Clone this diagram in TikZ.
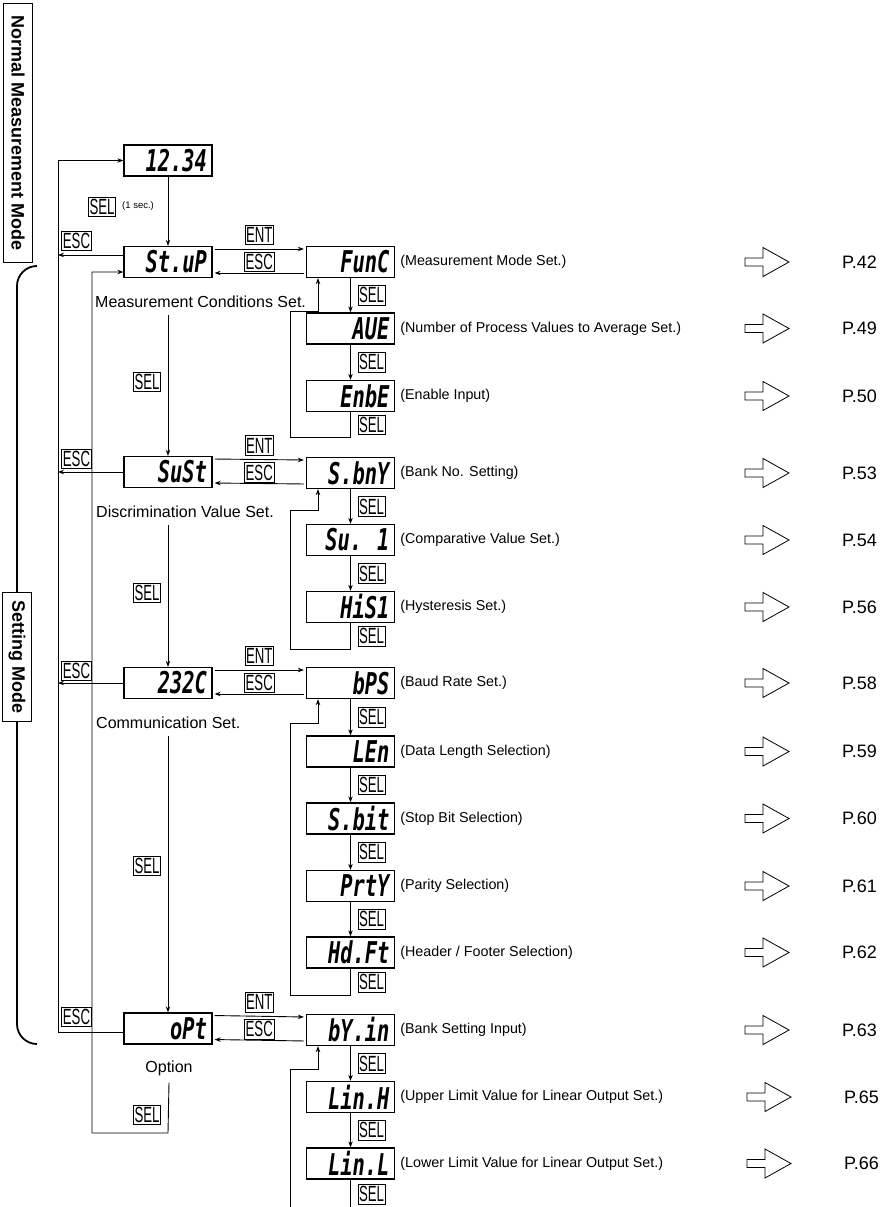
\documentclass[tikz,border=0pt]{standalone}
\usepackage{fontspec}
\setmainfont{Liberation Sans}
\newfontfamily\segfont[FakeStretch=0.68]{DejaVu Sans Mono}
\newfontfamily\keyfont[FakeStretch=0.6]{Liberation Sans}
\usetikzlibrary{positioning, arrows.meta}

\tikzset{
  disp/.style={draw, line width=1.3pt, minimum width=88pt, minimum height=31pt,
    inner sep=0pt, text width=78pt, align=right,
    font=\segfont\bfseries\itshape\fontsize{30}{30}\selectfont},
  key/.style={draw, line width=0.6pt, inner sep=1.2pt, minimum height=19.5pt,
    font=\keyfont\fontsize{22}{22}\selectfont},
  desc/.style={inner sep=0pt, font=\fontsize{14.3}{16}\selectfont},
  grouptitle/.style={inner sep=0pt, font=\fontsize{16}{18}\selectfont},
  pgref/.style={inner sep=0pt, anchor=west, font=\fontsize{18}{18}\selectfont},
  modebox/.style={draw, line width=1.8pt, rotate=-90, inner sep=2pt, fill=white,
    minimum height=29pt, font=\bfseries\fontsize{18}{18}\selectfont},
  conn/.style={line width=0.9pt},
  arr/.style={conn, -{Stealth[length=6pt, width=4.5pt]}},
  refarrow/.style={line width=0.8pt, line join=miter},
}

\begin{document}
\begin{tikzpicture}[x=1pt, y=-1pt]
  \useasboundingbox (0,0) rectangle (885,1207);

  % mode labels and brace
  \node[modebox, minimum width=259pt] (normal) at (18,133) {Normal Measurement Mode};
  \draw[line width=1.8pt, rounded corners=20pt] (37,266) -- (17,266) -- (17,1044) -- (37,1044);
  \node[modebox, minimum width=129pt] (setmode) at (17,657) {Setting Mode};

  % helper columns
  \coordinate (escx) at (58,0);
  \coordinate (loopx) at (92,0);
  \coordinate (lx) at (290,0);
  \coordinate (jx) at (318,0);
  \coordinate (refx) at (745,0);
  \coordinate (pgx) at (842,0);
  \coordinate (cut) at (0,1212);
  \coordinate (optloop) at (0,1133);

  % main column
  \node[disp] (meas)  at (168,160.5) {12.34};
  \node[disp] (setup) at (168,262)   {St.uP};
  \node[disp] (sust)  at (168,472)   {SuSt};
  \node[disp] (c232)  at (168,683)   {232C};
  \node[disp] (opt)   at (168,1028.5) {oPt};

  \node[grouptitle, anchor=west] (capsetup) at (95,302)  {Measurement Conditions Set.};
  \node[grouptitle, anchor=west] (capsust)  at (96,512)  {Discrimination Value Set.};
  \node[grouptitle, anchor=west] (capc232)  at (96,723)  {Communication Set.};
  \node[grouptitle] (capopt) at (169,1068) {Option};

  % sub columns
  \node[disp] (func) at (350.5,262)    {FunC};
  \node[disp] (aue)  at (350.5,328.5)  {AUE};
  \node[disp] (enbe) at (350.5,396)    {EnbE};
  \node[disp] (sbnk) at (350.5,473)    {S.bnY};
  \node[disp] (su1)  at (350.5,540)    {Su. 1};
  \node[disp] (his1) at (350.5,607)    {HiS1};
  \node[disp] (bps)  at (350.5,683)    {bPS};
  \node[disp] (len)  at (350.5,751.5)  {LEn};
  \node[disp] (sbit) at (350.5,818.5)  {S.bit};
  \node[disp] (prty) at (350.5,886)    {PrtY};
  \node[disp] (hdft) at (350.5,952.5)  {Hd.Ft};
  \node[disp] (bkin) at (350.5,1030)   {bY.in};
  \node[disp] (linh) at (350.5,1097)   {Lin.H};
  \node[disp] (linl) at (350.5,1163.5) {Lin.L};

  % descriptions
  \node[desc, right=5pt of func] (dfunc) {(Measurement Mode Set.)};
  \node[desc, right=5pt of aue]  (daue)  {(Number of Process Values to Average Set.)};
  \node[desc, right=5pt of enbe] (denbe) {(Enable Input)};
  \node[desc, right=5pt of sbnk] (dsbnk) {(Bank No. Setting)};
  \node[desc, right=5pt of su1]  (dsu1)  {(Comparative Value Set.)};
  \node[desc, right=5pt of his1] (dhis1) {(Hysteresis Set.)};
  \node[desc, right=5pt of bps]  (dbps)  {(Baud Rate Set.)};
  \node[desc, right=5pt of len]  (dlen)  {(Data Length Selection)};
  \node[desc, right=5pt of sbit] (dsbit) {(Stop Bit Selection)};
  \node[desc, right=5pt of prty] (dprty) {(Parity Selection)};
  \node[desc, right=5pt of hdft] (dhdft) {(Header / Footer Selection)};
  \node[desc, right=5pt of bkin] (dbkin) {(Bank Setting Input)};
  \node[desc, right=5pt of linh] (dlinh) {(Upper Limit Value for Linear Output Set.)};
  \node[desc, right=5pt of linl] (dlinl) {(Lower Limit Value for Linear Output Set.)};

  % page references
  \foreach \nm/\pg/\dx in {func/42/0, aue/49/0, enbe/50/0, sbnk/53/0, su1/54/0, his1/56/0,
      bps/58/0, len/59/0, sbit/60/0, prty/61/0, hdft/62/0, bkin/63/0, linh/65/2, linl/66/2} {
    \draw[refarrow] ([xshift=\dx pt]\nm -| refx) ++(0,-4) -- ++(18,0) -- ++(0,-10.5) -- ++(26,14.5)
      -- ++(-26,14.5) -- ++(0,-10.5) -- ++(-18,0) -- cycle;
    \node[pgref] (p\pg) at ([xshift=\dx pt]\nm -| pgx) {P.\pg};
  }

  % main SEL chain
  \draw[arr] (meas) -- (setup);
  \node[key] (selmeas) at (102,207) {SEL};
  \node[inner sep=0pt, anchor=west, font=\fontsize{9.5}{10}\selectfont] (onesec) at (122,206) {(1 sec.)};
  \draw[arr] ([yshift=-7pt]capsetup.south -| setup) -- (sust);
  \node[key] (selsetup) at (147,382) {SEL};
  \draw[arr] ([yshift=-7pt]capsust.south -| sust) -- (c232);
  \node[key] (selsust) at (147,593) {SEL};
  \draw[arr] ([yshift=-7pt]capc232.south -| c232) -- (opt);
  \node[key] (selc232) at (147,866) {SEL};

  % back to setup from option
  \draw[arr] ([yshift=-7pt]capopt.south) -- (opt |- optloop)
    -| ([yshift=-10pt]setup.west -| loopx) -- ([yshift=-10pt]setup.west);
  \node[key] (selopt) at (147,1115) {SEL};

  % ESC to normal mode
  \draw[arr] ([yshift=-3.5pt]opt.west) -| (escx |- meas) -- (meas);
  \draw[arr] ([yshift=7pt]setup.west) -- ([yshift=7pt]setup.west -| escx);
  \draw[arr] (sust.west) -- (sust.west -| escx);
  \draw[arr] (c232.west) -- (c232.west -| escx);
  \node[key] (escsetup) at (76.5,241)  {ESC};
  \node[key] (escsust)  at (76.5,459)  {ESC};
  \node[key] (escc232)  at (76.5,671)  {ESC};
  \node[key] (escopt)   at (76.5,1017) {ESC};

  % ENT / ESC between columns
  \foreach \m/\s in {setup/func, sust/sbnk, c232/bps, opt/bkin} {
    \draw[arr, shorten <=2pt, shorten >=2pt] ([yshift=13pt]\m.east) -- ([yshift=13pt]\s.west)
      node[midway, key, yshift=14pt] (ent\m) {ENT};
    \draw[arr, shorten <=2pt, shorten >=2pt] ([yshift=-11pt]\s.west) -- ([yshift=-11pt]\m.east)
      node[midway, key, yshift=11pt] (esc\s) {ESC};
  }

  % SEL steps in sub columns
  \foreach \a/\b in {func/aue, aue/enbe, sbnk/su1, su1/his1, bps/len, len/sbit,
      sbit/prty, prty/hdft, bkin/linh, linh/linl} {
    \draw[arr] (\a) -- (\b) node[midway, key, anchor=west, xshift=7pt] (sel\a) {SEL};
  }

  % loops back to the first item
  \foreach \f/\l/\d/\j in {func/enbe/25/33, sbnk/his1/26/21, bps/hdft/27/24} {
    \draw[arr] (\l.south) -- ++(0,\d) node[midway, key, anchor=west, xshift=7pt] (sel\l) {SEL}
      -| ([yshift=-\j pt]\f.south -| lx) -| (\f.south -| jx);
  }
  \draw[conn] (linl.south) -- (linl |- cut) node[pos=0.45, key, anchor=west, xshift=7pt] (sellinl) {SEL};
  \draw[arr] (cut -| lx) |- ([yshift=-23pt]bkin.south -| jx) -- (bkin.south -| jx);
\end{tikzpicture}
\end{document}
